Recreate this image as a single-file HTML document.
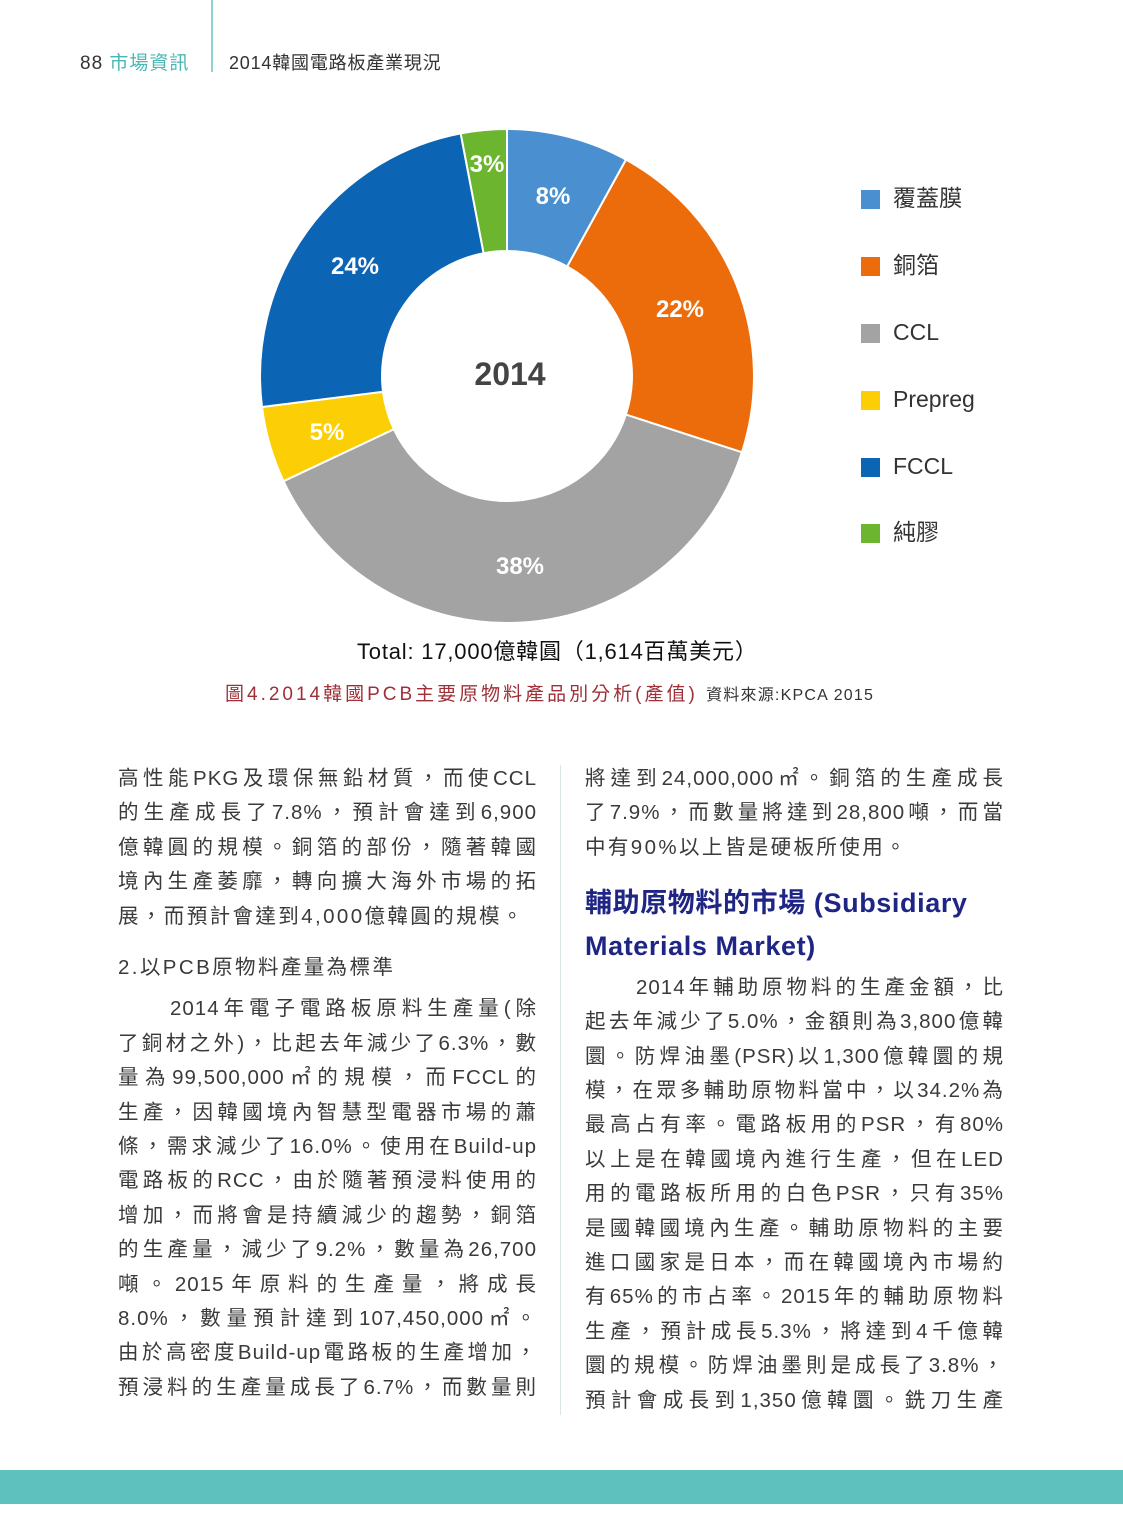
<!DOCTYPE html>
<html><head><meta charset="utf-8"><style>
body{margin:0;width:1123px;height:1536px;position:relative;background:#fff;font-family:"Liberation Sans","Noto Sans CJK TC",sans-serif;overflow:hidden}
.a{position:absolute;white-space:nowrap}
.l{position:absolute;height:34.4px;line-height:34.4px;font-size:20.5px;color:#3a3a3a;text-align:justify;text-align-last:justify;overflow:visible;letter-spacing:1px}
.n{letter-spacing:2.4px}
.L{left:118px;width:419px}.R{left:585px;width:419px}
.lg{position:absolute;left:861px;width:19px;height:19px}
.lt{position:absolute;left:893px;font-size:23px;color:#333;line-height:24px}
.pct{font-family:"Liberation Sans",sans-serif;font-weight:bold;fill:#fff;font-size:24px;text-anchor:middle}
</style></head><body>
<div class="a" style="left:211px;top:0;width:2px;height:72px;background:#8fd3cf"></div>
<div class="a" style="left:80px;top:48px;font-size:19px;color:#333;letter-spacing:1px">88 <span style="color:#4ab7b3">市場資訊</span></div>
<div class="a" style="left:229px;top:49px;font-size:18px;color:#333;letter-spacing:0.8px">2014韓國電路板產業現況</div>

<svg class="a" style="left:0;top:0" width="1123" height="720">
<g stroke="#fff" stroke-width="2">
<path d="M507,129 A247,247 0 0 1 626.0,159.6 L567.2,266.5 A125,125 0 0 0 507,251Z" fill="#4a90d0"/>
<path d="M626.0,159.6 A247,247 0 0 1 741.9,452.3 L625.9,414.6 A125,125 0 0 0 567.2,266.5Z" fill="#ec6c0c"/>
<path d="M741.9,452.3 A247,247 0 0 1 283.5,481.2 L393.9,429.2 A125,125 0 0 0 625.9,414.6Z" fill="#a3a3a3"/>
<path d="M283.5,481.2 A247,247 0 0 1 262.0,407.0 L383.0,391.7 A125,125 0 0 0 393.9,429.2Z" fill="#fcce05"/>
<path d="M262.0,407.0 A247,247 0 0 1 460.7,133.4 L483.6,253.2 A125,125 0 0 0 383.0,391.7Z" fill="#0b64b4"/>
<path d="M460.7,133.4 A247,247 0 0 1 507,129 L507,251 A125,125 0 0 0 483.6,253.2Z" fill="#6cb52e"/>
</g>
<text class="pct" x="553" y="204">8%</text>
<text class="pct" x="680" y="317">22%</text>
<text class="pct" x="520" y="574">38%</text>
<text class="pct" x="327" y="440">5%</text>
<text class="pct" x="355" y="274">24%</text>
<text class="pct" x="487" y="172">3%</text>
<text x="510" y="385" text-anchor="middle" font-size="32" font-weight="bold" fill="#444" font-family="Liberation Sans,sans-serif">2014</text>
</svg>
<div class="lg" style="top:190px;background:#4a90d0"></div><div class="lt" style="top:186px">覆蓋膜</div>
<div class="lg" style="top:257px;background:#ec6c0c"></div><div class="lt" style="top:253px">銅箔</div>
<div class="lg" style="top:324px;background:#a3a3a3"></div><div class="lt" style="top:320px">CCL</div>
<div class="lg" style="top:391px;background:#fcce05"></div><div class="lt" style="top:387px">Prepreg</div>
<div class="lg" style="top:458px;background:#0b64b4"></div><div class="lt" style="top:454px">FCCL</div>
<div class="lg" style="top:524px;background:#6cb52e"></div><div class="lt" style="top:520px">純膠</div>

<div class="a" style="left:357px;top:634px;font-size:22px;color:#111;letter-spacing:0.8px">Total: 17,000億韓圓（1,614百萬美元）</div>
<div class="a" style="left:225px;top:679px;font-size:19px;color:#a03038;letter-spacing:3px">圖4.2014韓國PCB主要原物料產品別分析(產值) <span style="color:#333;font-size:16px;letter-spacing:1.2px">資料來源:KPCA 2015</span></div>

<div class="a" style="left:560px;top:765px;width:1px;height:650px;background:#d8e6e6"></div>

<div class="l L" style="top:762px">高性能PKG及環保無鉛材質，而使CCL</div>
<div class="l L" style="top:796px">的生產成長了7.8%，預計會達到6,900</div>
<div class="l L" style="top:831px">億韓圓的規模。銅箔的部份，隨著韓國</div>
<div class="l L" style="top:865px">境內生產萎靡，轉向擴大海外市場的拓</div>
<div class="l n" style="left:118px;top:900px">展，而預計會達到4,000億韓圓的規模。</div>
<div class="l n" style="left:118px;top:951px">2.以PCB原物料產量為標準</div>
<div class="l" style="left:170px;width:367px;top:992px">2014年電子電路板原料生產量(除</div>
<div class="l L" style="top:1027px">了銅材之外)，比起去年減少了6.3%，數</div>
<div class="l L" style="top:1061px">量為99,500,000㎡的規模，而FCCL的</div>
<div class="l L" style="top:1096px">生產，因韓國境內智慧型電器市場的蕭</div>
<div class="l L" style="top:1130px">條，需求減少了16.0%。使用在Build-up</div>
<div class="l L" style="top:1164px">電路板的RCC，由於隨著預浸料使用的</div>
<div class="l L" style="top:1199px">增加，而將會是持續減少的趨勢，銅箔</div>
<div class="l L" style="top:1233px">的生產量，減少了9.2%，數量為26,700</div>
<div class="l L" style="top:1268px">噸。2015年原料的生產量，將成長</div>
<div class="l L" style="top:1302px">8.0%，數量預計達到107,450,000㎡。</div>
<div class="l L" style="top:1336px">由於高密度Build-up電路板的生產增加，</div>
<div class="l L" style="top:1371px">預浸料的生產量成長了6.7%，而數量則</div>

<div class="l R" style="top:762px">將達到24,000,000㎡。銅箔的生產成長</div>
<div class="l R" style="top:796px">了7.9%，而數量將達到28,800噸，而當</div>
<div class="l n" style="left:585px;top:831px">中有90%以上皆是硬板所使用。</div>
<div class="a" style="left:585px;top:885px;font-size:27px;font-weight:bold;color:#1f2585;line-height:36px;letter-spacing:0.6px">輔助原物料的市場 (Subsidiary</div>
<div class="a" style="left:585px;top:928px;font-size:27px;font-weight:bold;color:#1f2585;line-height:36px;letter-spacing:0.6px">Materials Market)</div>
<div class="l" style="left:636px;width:368px;top:971px">2014年輔助原物料的生產金額，比</div>
<div class="l R" style="top:1005px">起去年減少了5.0%，金額則為3,800億韓</div>
<div class="l R" style="top:1040px">圜。防焊油墨(PSR)以1,300億韓圜的規</div>
<div class="l R" style="top:1074px">模，在眾多輔助原物料當中，以34.2%為</div>
<div class="l R" style="top:1108px">最高占有率。電路板用的PSR，有80%</div>
<div class="l R" style="top:1143px">以上是在韓國境內進行生產，但在LED</div>
<div class="l R" style="top:1177px">用的電路板所用的白色PSR，只有35%</div>
<div class="l R" style="top:1212px">是國韓國境內生產。輔助原物料的主要</div>
<div class="l R" style="top:1246px">進口國家是日本，而在韓國境內市場約</div>
<div class="l R" style="top:1280px">有65%的市占率。2015年的輔助原物料</div>
<div class="l R" style="top:1315px">生產，預計成長5.3%，將達到4千億韓</div>
<div class="l R" style="top:1349px">圜的規模。防焊油墨則是成長了3.8%，</div>
<div class="l R" style="top:1384px">預計會成長到1,350億韓圜。銑刀生產</div>

<div class="a" style="left:0;top:1470px;width:1123px;height:34px;background:#5fc1be"></div>
</body></html>
